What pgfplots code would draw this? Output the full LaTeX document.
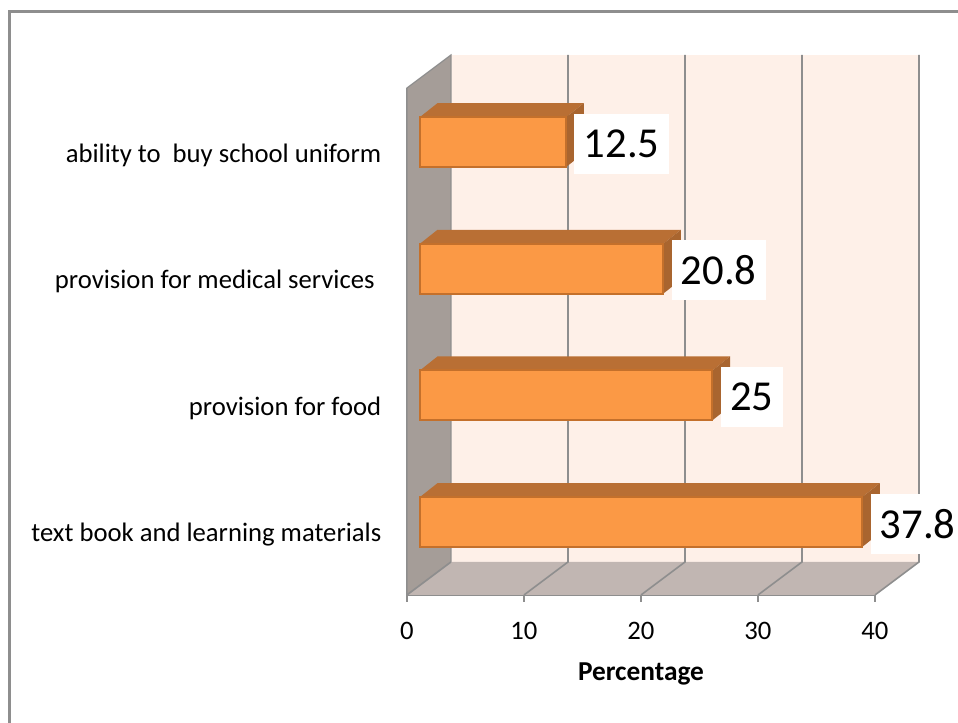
\documentclass[border=0pt]{standalone}
\usepackage{fontspec}
\setmainfont{Carlito}
\usepackage{pgfplots}
\usepackage{pgfplotstable}
\pgfplotsset{compat=1.18}

\definecolor{backwall}{HTML}{FEF0E8}
\definecolor{sidewall}{HTML}{A59D98}
\definecolor{floorcol}{HTML}{C1B6B2}
\definecolor{gridcol}{HTML}{8E8E8E}
\definecolor{barfront}{HTML}{FB9945}
\definecolor{baredge}{HTML}{C4702B}
\definecolor{bartop}{HTML}{B96F34}
\definecolor{barside}{HTML}{A9652F}

% y = 0 is the lowest bar, offset is the depth of the bars in the 3D box
\pgfplotstableread{
y offset value
0 1.11 37.8
1 1.11 25
2 1.11 20.8
3 1.11 12.5
}\bardata

\begin{document}
\begin{tikzpicture}
% 1 px of the reference = 0.75pt
\path[use as bounding box] (-305.25pt,-96pt) rectangle (413.25pt,446.25pt);
\draw[gridcol, line width=2.25pt] (-298.1pt,-96pt) -- (-298.1pt,437.6pt) -- (413.25pt,437.6pt);
\begin{axis}[
    at={(0,0)},
    anchor=south west,
    scale only axis,
    width=351pt,
    height=380.25pt,
    clip=false,
    xmin=0, xmax=40,
    ymin=-0.5763, ymax=3.4263,
    axis x line=bottom,
    axis y line=left,
    axis line style={-, gridcol, line width=1.2pt},
    xtick={0,10,20,30,40},
    ytick={0,1,2,3},
    yticklabels={text book and learning materials, provision for food, provision for medical services\hspace*{5pt}, ability to\ \ buy school uniform},
    tick style={gridcol, line width=1.2pt},
    tick align=outside,
    major tick length=5.25pt,
    y tick style={draw=none},
    xticklabel style={font=\fontsize{20}{22}\selectfont, yshift=-11.5pt},
    yticklabel style={font=\fontsize{20}{22}\selectfont, anchor=east, xshift=-10.5pt, yshift=-9.75pt},
    /pgf/number format/assume math mode=true,
    xlabel={\textbf{Percentage}},
    xlabel style={font=\fontsize{20.5}{22}\selectfont, at={(axis description cs:0.5,0)}, anchor=center, yshift=-59.5pt},
]
% back wall, side wall, floor
\addplot[fill=backwall, draw=none, forget plot] coordinates {(3.76,-0.3158) (43.76,-0.3158) (43.76,3.687) (3.76,3.687)} --cycle;
\addplot[fill=sidewall, draw=gridcol, line width=0.9pt, forget plot] coordinates {(0,-0.5763) (0,3.4263) (3.76,3.687) (3.76,-0.3158)} --cycle;
\addplot[fill=floorcol, draw=none, forget plot] coordinates {(0,-0.5763) (40,-0.5763) (43.76,-0.3158) (3.76,-0.3158)} --cycle;
% grid lines, running over the floor and up the back wall
\addplot[gridcol, line width=1.2pt, forget plot] coordinates {(0,-0.5763) (3.76,-0.3158)};
\addplot[gridcol, line width=1.2pt, forget plot] coordinates {(10,-0.5763) (13.76,-0.3158) (13.76,3.687)};
\addplot[gridcol, line width=1.2pt, forget plot] coordinates {(20,-0.5763) (23.76,-0.3158) (23.76,3.687)};
\addplot[gridcol, line width=1.2pt, forget plot] coordinates {(30,-0.5763) (33.76,-0.3158) (33.76,3.687)};
\addplot[gridcol, line width=1.2pt, forget plot] coordinates {(40,-0.5763) (43.76,-0.3158) (43.76,3.687)};
% top and right faces of the bars
\addplot[fill=bartop, draw=none, forget plot] coordinates {(1.11,0.197) (2.61,0.307) (40.41,0.307) (38.91,0.197)} --cycle;
\addplot[fill=barside, draw=none, forget plot] coordinates {(38.91,0.197) (40.41,0.307) (40.41,-0.087) (38.91,-0.197)} --cycle;
\addplot[fill=bartop, draw=none, forget plot] coordinates {(1.11,1.197) (2.61,1.307) (27.61,1.307) (26.11,1.197)} --cycle;
\addplot[fill=barside, draw=none, forget plot] coordinates {(26.11,1.197) (27.61,1.307) (27.61,0.913) (26.11,0.803)} --cycle;
\addplot[fill=bartop, draw=none, forget plot] coordinates {(1.11,2.197) (2.61,2.307) (23.41,2.307) (21.91,2.197)} --cycle;
\addplot[fill=barside, draw=none, forget plot] coordinates {(21.91,2.197) (23.41,2.307) (23.41,1.913) (21.91,1.803)} --cycle;
\addplot[fill=bartop, draw=none, forget plot] coordinates {(1.11,3.197) (2.61,3.307) (15.11,3.307) (13.61,3.197)} --cycle;
\addplot[fill=barside, draw=none, forget plot] coordinates {(13.61,3.197) (15.11,3.307) (15.11,2.913) (13.61,2.803)} --cycle;
% front faces: an empty offset with the values stacked on it
\addplot[xbar stacked, bar width=37.5pt, bar shift=0pt, draw=none, fill=none, forget plot]
    table[x=offset, y=y] {\bardata};
\addplot[xbar stacked, bar width=37.5pt, bar shift=0pt, draw=baredge, line width=1.5pt, fill=barfront, forget plot]
    table[x=value, y=y] {\bardata};
% value boxes at the end of the bars
\addplot[draw=none, mark=none, forget plot,
    point meta=explicit,
    nodes near coords,
    every node near coord/.style={font=\fontsize{32}{34}\selectfont, text=black, fill=white, anchor=west,
        xshift=6pt, yshift=-1.25pt, inner xsep=7pt, inner ysep=0pt, minimum height=45pt},
    ] table[x expr=\thisrow{offset}+\thisrow{value}, y=y, meta=value] {\bardata};
\end{axis}
\end{tikzpicture}
\end{document}
